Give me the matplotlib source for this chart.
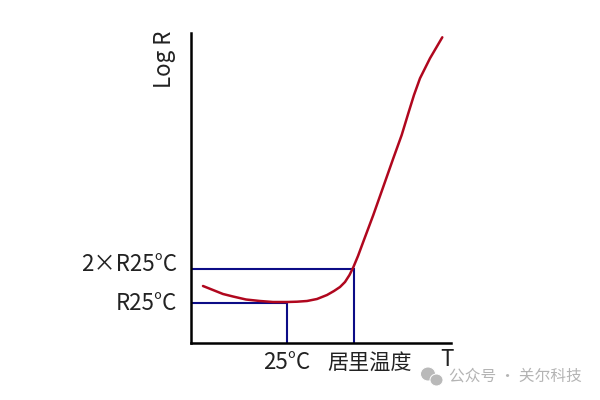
import matplotlib
matplotlib.use("Agg")
import matplotlib.pyplot as plt
from matplotlib.patches import Ellipse
from matplotlib.transforms import ScaledTranslation

plt.rcParams["font.family"] = ["Noto Sans CJK SC", "DejaVu Sans"]

curve_t = [12, 17, 22, 32, 42, 55, 69, 82, 96, 106, 116, 126, 136, 143, 149, 154, 158.5, 162.3,
           167, 172.3, 182.3, 192.3, 202.3, 210.7, 217.3, 223, 229, 239, 251.3]
curve_r = [57, 55, 53, 49, 46.5, 43.5, 42, 41, 41, 41.3, 42, 44, 48, 52, 56, 61, 68, 75.7,
           87, 101.3, 128, 156.3, 184.7, 208, 229.7, 248, 264.7, 284.7, 305.7]
t_25, t_curie = 96, 163
r_25, r_2x = 40, 74
x_ticklabels = ["25°C", "居里温度"]
y_ticklabels = ["R25°C", "2×R25°C"]

W, H = 600, 400
FS = 16.1
INK = "#222222"
fig = plt.figure(figsize=(6, 4), dpi=100)
ax = fig.add_axes([191 / W, (H - 343) / H, 260 / W, 310 / H])
ax.set_xlim(0, 260)
ax.set_ylim(0, 310)

ax.plot(curve_t, curve_r, color="#b0071e", lw=1.8, solid_capstyle="round", zorder=3)

navy = "#0c0c86"
ax.plot([0, t_25, t_25], [r_25, r_25, 0], color=navy, lw=1.5, solid_joinstyle="miter", zorder=2)
ax.plot([0, t_curie, t_curie], [r_2x, r_2x, 0], color=navy, lw=1.5, solid_joinstyle="miter", zorder=2)

for s in ["top", "right"]:
    ax.spines[s].set_visible(False)
for s in ["left", "bottom"]:
    ax.spines[s].set_linewidth(1.8)
    ax.spines[s].set_color("black")
    ax.spines[s].set_zorder(4)

ax.set_xticks([t_25, t_curie], x_ticklabels, fontsize=FS, color=INK)
ax.set_yticks([r_25, r_2x], y_ticklabels, fontsize=FS, color=INK)
ax.tick_params(length=0)
ax.tick_params(axis="y", pad=10)
ax.tick_params(axis="x", pad=6)

# the labels in the reference are not centred on their ticks
xlab = ax.get_xticklabels()[1]
xlab.set_fontsize(15.2)
xlab.set_transform(xlab.get_transform() + ScaledTranslation(16 / 100, 0, fig.dpi_scale_trans))
ylab = ax.get_yticklabels()
ylab[0].set_transform(ylab[0].get_transform() + ScaledTranslation(0, 2 / 100, fig.dpi_scale_trans))
ylab[1].set_transform(ylab[1].get_transform() + ScaledTranslation(0, 7 / 100, fig.dpi_scale_trans))

fig.text(165 / W, 1 - 59 / H, "Log R", rotation=90, fontsize=FS, color=INK, ha="center", va="center")
fig.text(447 / W, 1 - 360 / H, "T", fontsize=FS, color=INK, ha="center", va="center")

# watermark
fig.text(449 / W, 1 - 376 / H, "公众号 · 关尔科技", fontsize=11.3, color="#b4b4b4", ha="left", va="center")
for cx, cy, w, h in [(428, 374, 15, 14), (436.5, 380, 13, 12)]:
    fig.add_artist(Ellipse((cx / W, 1 - cy / H), w / W, h / H, transform=fig.transFigure,
                           facecolor="#b9b9b9", edgecolor="white", lw=0.7))

fig.savefig("out.png", dpi=100)
